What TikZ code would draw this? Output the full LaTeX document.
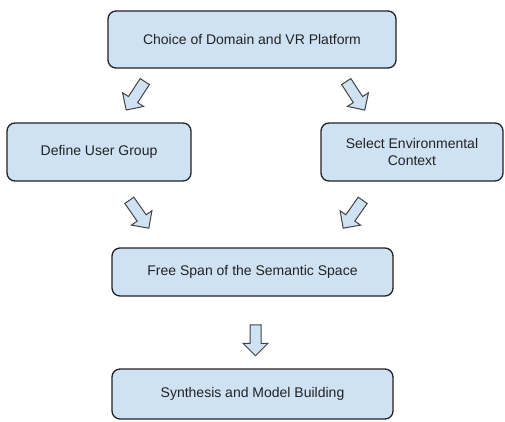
\documentclass[tikz,border=0pt]{standalone}
\usepackage{fontspec}
\setmainfont{Liberation Sans}
\usetikzlibrary{shapes.arrows}
\definecolor{boxblue}{HTML}{CFE2F3}
\definecolor{edgegray}{HTML}{222222}

\begin{document}
\begin{tikzpicture}[x=1pt,y=-1pt,font=\fontsize{14}{17}\selectfont,
  box/.style={draw=edgegray,line width=1.3pt,fill=boxblue,rounded corners=8pt,
    text=edgegray,align=center,inner sep=0pt},
  blockarrow/.style={single arrow,draw=edgegray!85,line width=1pt,fill=boxblue,
    inner sep=5pt,single arrow head extend=7pt,minimum height=34pt}]
  \useasboundingbox (0,0) rectangle (505,421);
  % the five steps
  \node[box,minimum width=288pt,minimum height=57pt] (choice) at (252,39.5) {Choice of Domain and VR Platform};
  \node[box,minimum width=184pt,minimum height=58pt] (user) at (99,152) {Define User Group};
  \node[box,minimum width=182pt,minimum height=58pt] (context) at (412,152) {Select Environmental\\Context};
  \node[box,minimum width=281pt,minimum height=48pt] (span) at (252.5,272) {Free Span of the Semantic Space};
  \node[box,minimum width=281pt,minimum height=50pt] (synth) at (252.5,394) {Synthesis and Model Building};
  % block arrows between the steps
  \node[blockarrow,rotate=236.8] (a1) at (137,93.5) {};
  \node[blockarrow,rotate=-57] (a2) at (354,93.5) {};
  \node[blockarrow,rotate=-55] (a3) at (137.5,212) {};
  \node[blockarrow,rotate=235] (a4) at (354.5,212) {};
  \node[blockarrow,rotate=-90,minimum height=31pt] (a5) at (255.5,337.5) {};
\end{tikzpicture}
\end{document}
